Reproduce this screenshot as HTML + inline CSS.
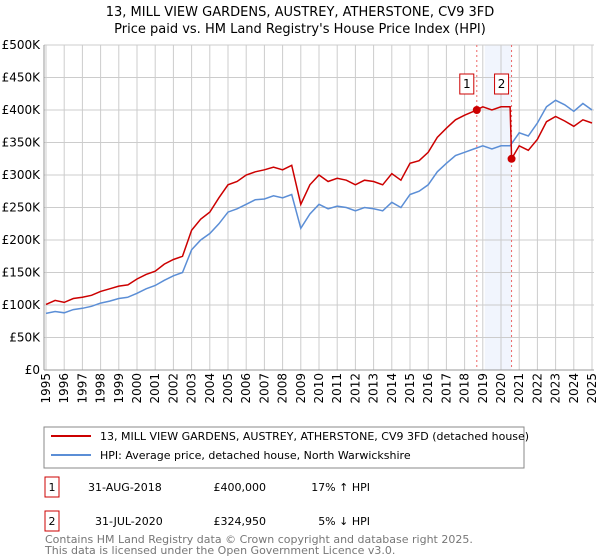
<!DOCTYPE html>
<html><head><meta charset="utf-8"><style>
body{margin:0;background:#fff;font-family:"Liberation Sans","DejaVu Sans",sans-serif;}
#wrap{position:relative;width:600px;height:560px;overflow:hidden}
</style></head><body><div id="wrap">
<svg id="svg" width="600" height="560" font-family="DejaVu Sans, Liberation Sans, sans-serif">
<text x="300" y="16" text-anchor="middle" font-size="13" fill="#000">13, MILL VIEW GARDENS, AUSTREY, ATHERSTONE, CV9 3FD</text>
<text x="300" y="33" text-anchor="middle" font-size="13" fill="#000">Price paid vs. HM Land Registry's House Price Index (HPI)</text>
<g id="grid"></g><g id="marks"></g><g id="axes"></g>
<rect x="44" y="427" width="480" height="41" fill="#fff" stroke="#888"/>
<line x1="51" y1="436" x2="91" y2="436" stroke="#cc0000" stroke-width="2"/>
<text x="100" y="440" font-size="11">13, MILL VIEW GARDENS, AUSTREY, ATHERSTONE, CV9 3FD (detached house)</text>
<line x1="51" y1="455" x2="91" y2="455" stroke="#5b8ed6" stroke-width="2"/>
<text x="100" y="459" font-size="11">HPI: Average price, detached house, North Warwickshire</text>
<g font-size="11">
<rect x="45" y="477" width="14" height="20" fill="#fff" stroke="#cc0000"/><text x="52" y="491" text-anchor="middle">1</text>
<text x="88" y="491">31-AUG-2018</text>
<text x="266" y="491" text-anchor="end">£400,000</text>
<text x="370" y="491" text-anchor="end">17% ↑ HPI</text>
<rect x="45" y="511" width="14" height="20" fill="#fff" stroke="#cc0000"/><text x="52" y="525" text-anchor="middle">2</text>
<text x="95" y="525">31-JUL-2020</text>
<text x="266" y="525" text-anchor="end">£324,950</text>
<text x="370" y="525" text-anchor="end">5% ↓ HPI</text>
</g>
<text x="45" y="543" font-size="11" fill="#777">Contains HM Land Registry data © Crown copyright and database right 2025.</text>
<text x="45" y="554" font-size="11" fill="#777">This data is licensed under the Open Government Licence v3.0.</text>
</svg></div>
<script>
const hpiYears=[1995,1995.5,1996,1996.5,1997,1997.5,1998,1998.5,1999,1999.5,2000,2000.5,2001,2001.5,2002,2002.5,2003,2003.5,2004,2004.5,2005,2005.5,2006,2006.5,2007,2007.5,2008,2008.5,2009,2009.5,2010,2010.5,2011,2011.5,2012,2012.5,2013,2013.5,2014,2014.5,2015,2015.5,2016,2016.5,2017,2017.5,2018,2018.5,2019,2019.5,2020,2020.5,2021,2021.5,2022,2022.5,2023,2023.5,2024,2024.5,2025];
const hpiValues=[87,90,88,93,95,98,103,106,110,112,118,125,130,138,145,150,185,200,210,225,243,248,255,262,263,268,265,270,218,240,255,248,252,250,245,250,248,245,258,250,270,275,285,305,318,330,335,340,345,340,345,345,365,360,380,405,415,408,398,410,400];
const propYears=[1995,1995.5,1996,1996.5,1997,1997.5,1998,1998.5,1999,1999.5,2000,2000.5,2001,2001.5,2002,2002.5,2003,2003.5,2004,2004.5,2005,2005.5,2006,2006.5,2007,2007.5,2008,2008.5,2009,2009.5,2010,2010.5,2011,2011.5,2012,2012.5,2013,2013.5,2014,2014.5,2015,2015.5,2016,2016.5,2017,2017.5,2018,2018.5,2019,2019.5,2020,2020.5,2020.58,2021,2021.5,2022,2022.5,2023,2023.5,2024,2024.5,2025];
const propValues=[101,107,104,110,112,115,121,125,129,131,140,147,152,163,170,175,215,232,243,265,285,290,300,305,308,312,308,315,255,285,300,290,295,292,285,292,290,285,302,292,318,322,335,358,372,385,392,398,405,400,405,405,325,345,338,355,382,390,383,375,385,380];
const saleYears=[2018.67,2020.58];
const saleValues=[400,324.95];
const saleLabels=["1","2"];
const yTicks=[0,50,100,150,200,250,300,350,400,450,500];
const yTickLabels=["£0","£50K","£100K","£150K","£200K","£250K","£300K","£350K","£400K","£450K","£500K"];
const xTicks=[1995,1996,1997,1998,1999,2000,2001,2002,2003,2004,2005,2006,2007,2008,2009,2010,2011,2012,2013,2014,2015,2016,2017,2018,2019,2020,2021,2022,2023,2024,2025];
const L=44,R=594,T=45,B=370;
const X=y=>46+(y-1995)*18.2;
const Y=v=>B-(v/500)*(B-T);
const NS="http://www.w3.org/2000/svg";
function mk(p,tag,a){const e=document.createElementNS(NS,tag);for(const k in a)e.setAttribute(k,a[k]);p.appendChild(e);return e;}
const grid=document.getElementById('grid'),marks=document.getElementById('marks'),axes=document.getElementById('axes');
mk(grid,'rect',{x:L,y:T,width:R-L,height:B-T,fill:'#fff'});
const sh=mk(grid,'rect',{x:X(saleYears[0])+8,y:T,width:X(saleYears[1])-X(saleYears[0])-8,height:B-T,fill:'#eef3fc',opacity:0.8});


xTicks.forEach(t=>{const l=mk(grid,'line',{x1:X(t),x2:X(t),y1:T,y2:B,stroke:'#ccc','stroke-width':1});


const xx=X(t)+4,yy=B+3;
const tx=mk(axes,'text',{x:xx,y:yy,'text-anchor':'end','font-size':12,transform:'rotate(-90 '+xx+' '+yy+')'});tx.textContent=t;

});
yTicks.forEach((t,i)=>{const l=mk(grid,'line',{x1:L,x2:R,y1:Y(t),y2:Y(t),stroke:'#ccc','stroke-width':1});


const tx=mk(axes,'text',{x:L-4,y:Y(t)+4,'text-anchor':'end','font-size':12});tx.textContent=yTickLabels[i];

});
mk(axes,'line',{x1:L,x2:L,y1:T,y2:B,stroke:'#999'});
mk(axes,'line',{x1:L,x2:R,y1:B,y2:B,stroke:'#999'});
saleYears.forEach((s,i)=>{const l=mk(marks,'line',{x1:X(s),x2:X(s),y1:T,y2:B,stroke:'#e66','stroke-dasharray':'2,3','stroke-width':1});

});
function pts(xs,vs){return xs.map((x,i)=>X(x).toFixed(1)+','+Y(vs[i]).toFixed(1)).join(' ');}
const hp=mk(marks,'polyline',{points:pts(hpiYears,hpiValues),fill:'none',stroke:'#5b8ed6','stroke-width':1.5});


const pp=mk(marks,'polyline',{points:pts(propYears,propValues),fill:'none',stroke:'#cc0000','stroke-width':1.5});


saleYears.forEach((s,i)=>{const c=mk(marks,'circle',{cx:X(s),cy:Y(saleValues[i]),r:4,fill:'#cc0000'});


const bx=X(s)-10;
const r=mk(marks,'rect',{x:bx-7,y:74,width:14,height:20,fill:'#fff',stroke:'#cc0000'});


const t=mk(marks,'text',{x:bx,y:88,'text-anchor':'middle','font-size':12});t.textContent=saleLabels[i];

});
</script></body></html>
